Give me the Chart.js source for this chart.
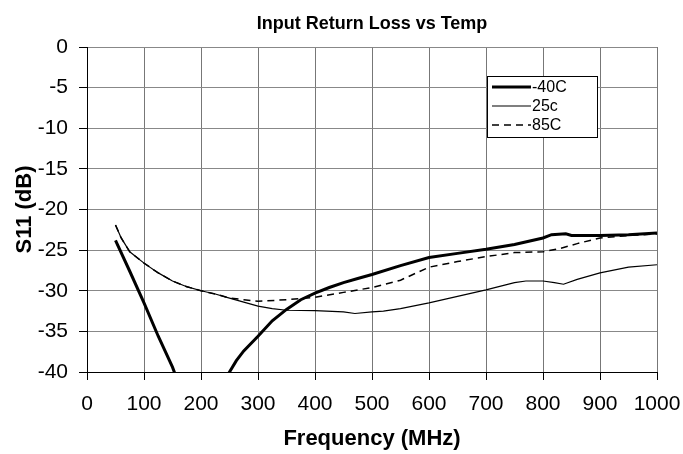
<!DOCTYPE html>
<html>
<head>
<meta charset="utf-8">
<script src="https://cdn.jsdelivr.net/npm/chart.js@4/dist/chart.umd.min.js"></script>
<style>
  html, body { margin: 0; padding: 0; background: #fff; }
  #wrap { width: 683px; height: 454px; }
</style>
</head>
<body>
<div id="wrap"><canvas id="c" width="683" height="454"></canvas></div>
<script>
'use strict';

// S11 vs frequency (null = gap where the curve leaves the axis)
const coldFreq = [50, 75, 100, 125, 150, 160, 200, 240, 250, 262, 275, 300, 325, 350, 375, 400, 425, 450, 475, 500,
                  550, 600, 650, 700, 750, 800, 815, 840, 850, 900, 950, 1000];
const coldDb   = [-23.8, -27.6, -31.5, -35.6, -39.4, -41.3, null, -41.2, -40.0, -38.6, -37.4, -35.6, -33.7, -32.3, -31.1, -30.3, -29.6, -29.0, -28.5, -28.0,
                  -26.9, -25.9, -25.4, -24.9, -24.3, -23.5, -23.1, -23.0, -23.2, -23.2, -23.1, -22.9];

const roomFreq = [50, 60, 75, 100, 125, 150, 175, 200, 225, 250, 275, 300, 325, 350, 400, 450, 470, 500, 520, 550,
                  600, 650, 700, 750, 770, 800, 820, 836, 860, 900, 950, 1000];
const roomDb   = [-21.9, -23.5, -25.2, -26.6, -27.8, -28.8, -29.5, -30.0, -30.4, -30.9, -31.4, -31.9, -32.2, -32.4, -32.45, -32.6, -32.8, -32.6, -32.5, -32.2,
                  -31.5, -30.7, -29.9, -29.0, -28.8, -28.8, -29.0, -29.2, -28.6, -27.8, -27.1, -26.8];

const hotFreq  = [50, 60, 75, 100, 125, 150, 175, 200, 225, 250, 275, 300, 350, 400, 450, 500, 550, 600, 650, 700,
                  750, 800, 830, 860, 900, 950, 1000];
const hotDb    = [-21.9, -23.5, -25.2, -26.6, -27.8, -28.8, -29.5, -30.0, -30.4, -30.9, -31.1, -31.3, -31.1, -30.8, -30.2, -29.6, -28.7, -27.1, -26.4, -25.8,
                  -25.3, -25.2, -24.8, -24.2, -23.5, -23.2, -23.0];

const seriesNames = ['-40C', '25c', '85C'];
const xTicks = [0, 1000, 100];   // min, max, step
const yTicks = [-40, 0, 5];

const FONT = "'Liberation Sans', Arial, sans-serif";

function pts(xs, ys) {
  return xs.map((x, i) => ({ x, y: ys[i] }));
}

// boxed legend sitting inside the plot, upper right
const boxLegend = {
  id: 'boxLegend',
  afterDatasetsDraw(chart) {
    const c = chart.ctx;
    const x0 = 487, y0 = 76, w = 110, h = 61;
    c.save();
    c.fillStyle = '#fff';
    c.fillRect(x0, y0, w, h);
    c.strokeStyle = '#000';
    c.lineWidth = 1;
    c.strokeRect(x0 + 0.5, y0 + 0.5, w, h);
    c.font = '16px ' + FONT;
    c.textBaseline = 'middle';
    c.fillStyle = '#000';
    chart.data.datasets.forEach((ds, i) => {
      const y = y0 + 11 + i * 19;
      c.beginPath();
      c.lineWidth = ds.borderWidth;
      c.setLineDash(ds.borderDash || []);
      c.moveTo(x0 + 5, y);
      c.lineTo(x0 + 44, y);
      c.stroke();
      c.setLineDash([]);
      c.fillText(ds.label, x0 + 45, y + 1);
    });
    c.restore();
  }
};

new Chart(document.getElementById('c').getContext('2d'), {
  type: 'line',
  data: {
    datasets: [
      { label: seriesNames[0], data: pts(coldFreq, coldDb), borderColor: '#000', borderWidth: 3,
        pointRadius: 0, tension: 0, spanGaps: false },
      { label: seriesNames[1], data: pts(roomFreq, roomDb), borderColor: '#000', borderWidth: 1.2,
        pointRadius: 0, tension: 0 },
      { label: seriesNames[2], data: pts(hotFreq, hotDb), borderColor: '#000', borderWidth: 1.5,
        borderDash: [7, 5], pointRadius: 0, tension: 0 },
    ]
  },
  plugins: [boxLegend],
  options: {
    responsive: false,
    animation: false,
    layout: { padding: { left: 0, right: 26, top: 0, bottom: 0 } },
    plugins: {
      legend: { display: false },
      tooltip: { enabled: false },
      title: {
        display: true, text: 'Input Return Loss vs Temp', fullSize: false,
        color: '#000', font: { family: FONT, size: 18, weight: 'bold' },
        padding: { top: 13, bottom: 12.4 }
      }
    },
    scales: {
      x: {
        type: 'linear', min: xTicks[0], max: xTicks[1],
        ticks: { stepSize: xTicks[2], color: '#000', font: { family: FONT, size: 21 }, padding: 12, maxRotation: 0,
                 callback: v => String(v) },
        grid: { color: '#777', tickColor: '#000', tickLength: 8, lineWidth: 1 },
        border: { color: '#000', width: 1 },
        title: { display: true, text: 'Frequency (MHz)', color: '#000',
                 font: { family: FONT, size: 22, weight: 'bold' }, padding: { top: 0, bottom: 2 } },
        afterFit(s) { s.height = 82; s.paddingLeft = 0; s.paddingRight = 0; }
      },
      y: {
        type: 'linear', min: yTicks[0], max: yTicks[1],
        ticks: { stepSize: yTicks[2], color: '#000', font: { family: FONT, size: 21 }, padding: 11 },
        grid: { color: '#888', tickColor: '#000', tickLength: 8, lineWidth: 1 },
        border: { color: '#000', width: 1 },
        title: { display: true, text: 'S11 (dB)', color: '#000',
                 font: { family: FONT, size: 22, weight: 'bold' }, padding: { top: 12, bottom: 0 } },
        afterFit(s) { s.width = 87; }
      }
    }
  }
});
</script>
</body>
</html>
